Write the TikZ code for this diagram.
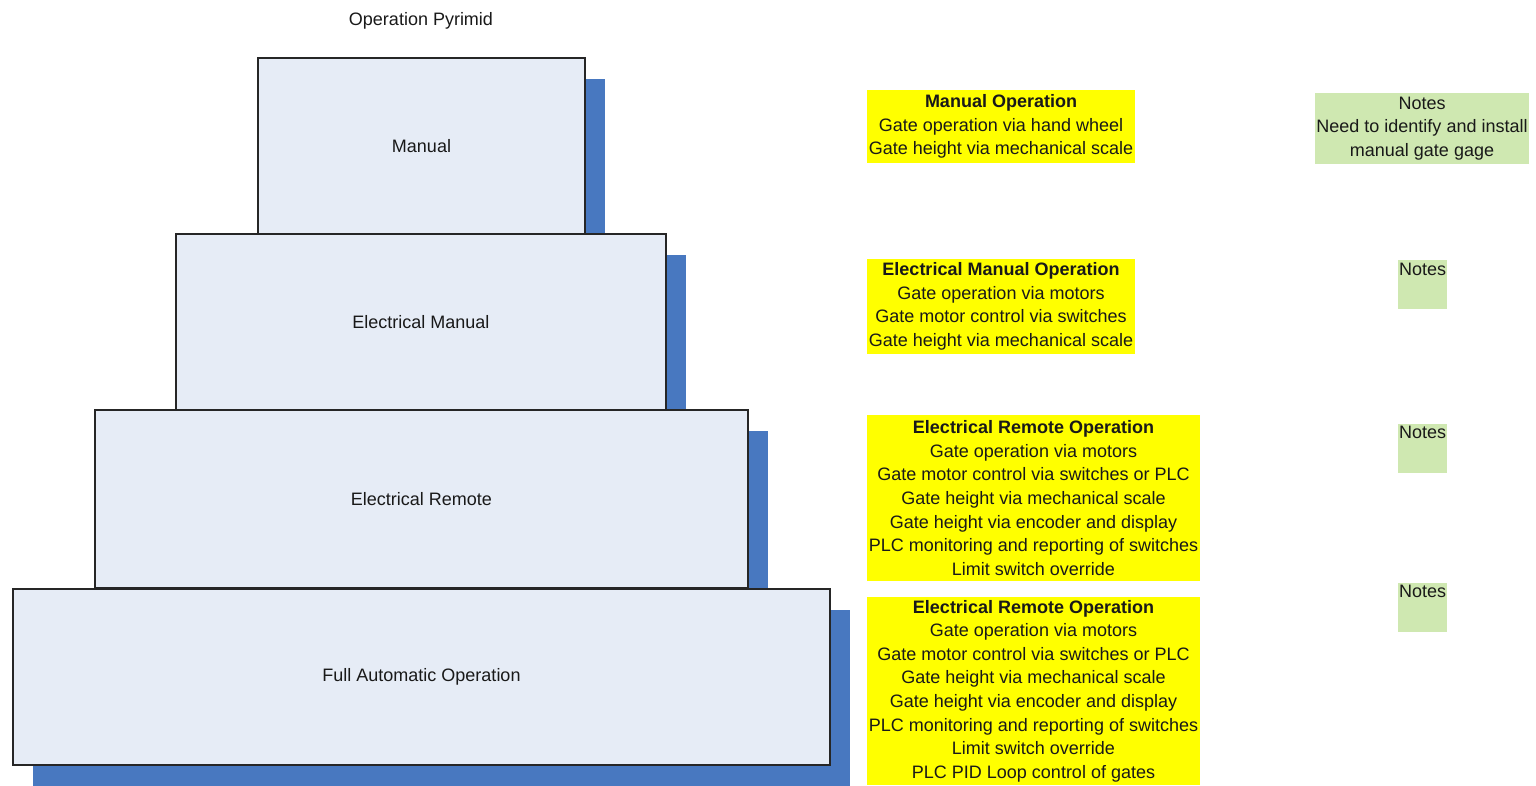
\documentclass[tikz,border=0pt]{standalone}
\usepackage{fontspec}
\setmainfont{Liberation Sans}
\usetikzlibrary{shadows}
\definecolor{boxfill}{RGB}{230,236,246}
\definecolor{shadowc}{RGB}{72,120,192}
\definecolor{yel}{RGB}{255,255,0}
\definecolor{grn}{RGB}{207,232,177}
\begin{document}
\begin{tikzpicture}[x=1pt,y=-1pt,
  txt/.style={font=\fontsize{18}{23.6}\selectfont, text=black!90},
  pbox/.style={txt, rectangle, draw=black!85, line width=1.1pt, fill=boxfill, inner sep=0pt,
    drop shadow={shadow xshift=20pt, shadow yshift=-21pt, fill=shadowc, opacity=1}},
  ybox/.style={txt, rectangle, fill=yel, inner sep=0pt, align=center},
  gbox/.style={txt, rectangle, fill=grn, inner sep=0pt, align=center},
  nbox/.style={gbox, minimum width=49pt, minimum height=49pt,
    label={[txt, anchor=north, inner sep=0pt, yshift=-3pt]north:Notes}}
]
\useasboundingbox (0,0) rectangle (1536,785);
\node[txt] (title) at (421,21) {Operation Pyrimid};
\node[pbox, minimum width=327pt, minimum height=176pt] (b1) at (421.5,146) {Manual};
\node[pbox, minimum width=490pt, minimum height=176pt] (b2) at (421,322) {Electrical Manual};
\node[pbox, minimum width=653pt, minimum height=178pt] (b3) at (421.5,499) {Electrical Remote};
\node[pbox, minimum width=817pt, minimum height=176pt] (b4) at (421.5,677) {Full Automatic Operation};

\node[ybox, minimum width=268pt, minimum height=73pt] (y1) at (1001,126.5)
  {\textbf{Manual Operation}\\Gate operation via hand wheel\\Gate height via mechanical scale};
\node[ybox, minimum width=268pt, minimum height=95pt] (y2) at (1001,306.5)
  {\textbf{Electrical Manual Operation}\\Gate operation via motors\\Gate motor control via switches\\Gate height via mechanical scale};
\node[ybox, minimum width=333pt, minimum height=166pt] (y3) at (1033.5,498)
  {\textbf{Electrical Remote Operation}\\Gate operation via motors\\Gate motor control via switches or PLC\\Gate height via mechanical scale\\Gate height via encoder and display\\PLC monitoring and reporting of switches\\Limit switch override};
\node[ybox, minimum width=333pt, minimum height=188pt] (y4) at (1033.5,691)
  {\textbf{Electrical Remote Operation}\\Gate operation via motors\\Gate motor control via switches or PLC\\Gate height via mechanical scale\\Gate height via encoder and display\\PLC monitoring and reporting of switches\\Limit switch override\\PLC PID Loop control of gates};

\node[gbox, minimum width=214pt, minimum height=71pt] (g1) at (1422,128.5)
  {Notes\\Need to identify and install\\manual gate gage};
\node[nbox] (g2) at (1422.5,284.5) {};
\node[nbox] (g3) at (1422.5,448) {};
\node[nbox] (g4) at (1422.5,607) {};
\end{tikzpicture}
\end{document}
